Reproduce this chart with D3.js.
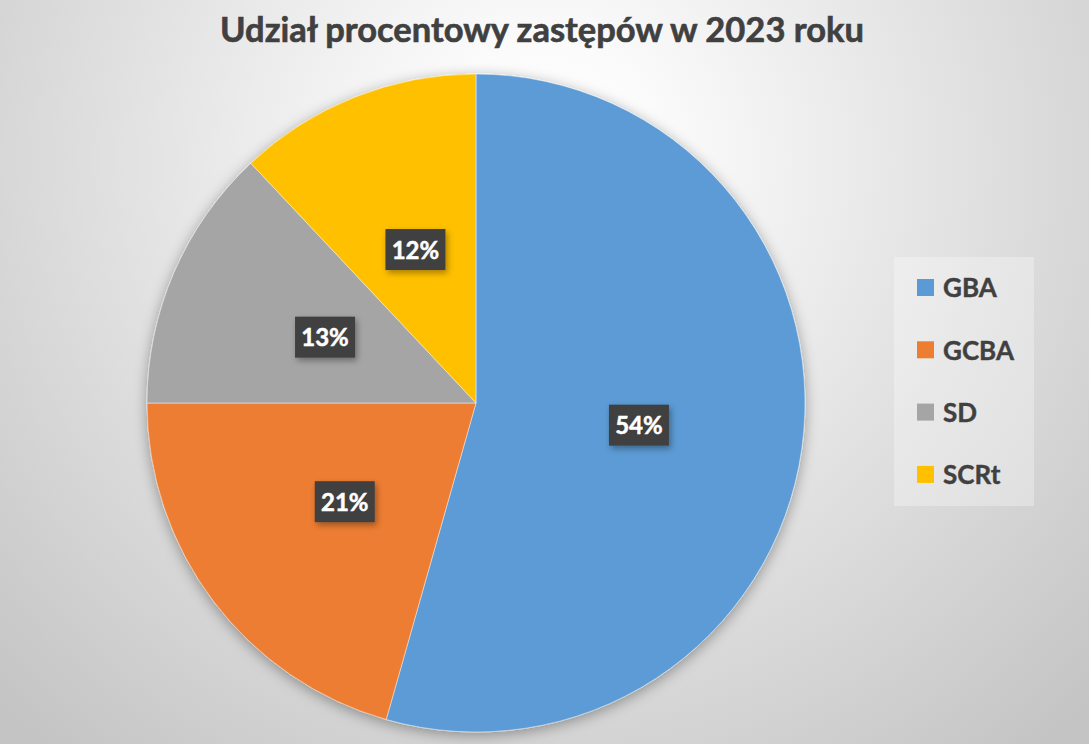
<!DOCTYPE html>
<html>
<head>
<meta charset="utf-8">
<script src="https://cdn.jsdelivr.net/npm/d3@7"></script>
<style>
  html, body { margin: 0; padding: 0; overflow: hidden; }
  svg { display: block; font-family: Lato, "Open Sans", sans-serif; }
</style>
</head>
<body>
<svg id="chart" width="1089" height="744"></svg>
<script>
const title = 'Udział procentowy zastępów w 2023 roku';
const categories = ['GBA', 'GCBA', 'SD', 'SCRt'];
const values = [54.4, 20.6, 13.0, 12.0];
const colors = ['#5B9BD5', '#ED7D31', '#A5A5A5', '#FFC000'];

const width = 1089, height = 744;
const cx = 476, cy = 403, radius = 329;

const svg = d3.select('#chart');
const defs = svg.append('defs');

// background: soft radial grey
const bg = defs.append('radialGradient')
  .attr('id', 'bg')
  .attr('gradientUnits', 'userSpaceOnUse')
  .attr('cx', 544).attr('cy', 160).attr('r', 770);
bg.append('stop').attr('offset', 0).attr('stop-color', '#ffffff');
bg.append('stop').attr('offset', 0.15).attr('stop-color', '#fbfbfb');
bg.append('stop').attr('offset', 1).attr('stop-color', '#c4c4c4');

const pieShadow = defs.append('filter').attr('id', 'pieShadow')
  .attr('x', '-10%').attr('y', '-10%').attr('width', '120%').attr('height', '120%');
pieShadow.append('feDropShadow')
  .attr('dx', 0).attr('dy', 3).attr('stdDeviation', 7)
  .attr('flood-color', '#000').attr('flood-opacity', 0.35);

const boxShadow = defs.append('filter').attr('id', 'boxShadow')
  .attr('x', '-30%').attr('y', '-30%').attr('width', '160%').attr('height', '160%');
boxShadow.append('feDropShadow')
  .attr('dx', 2).attr('dy', 3).attr('stdDeviation', 3)
  .attr('flood-color', '#000').attr('flood-opacity', 0.35);

svg.append('rect')
  .attr('width', width).attr('height', height)
  .attr('fill', 'url(#bg)');

svg.append('text')
  .attr('x', 542).attr('y', 42)
  .attr('text-anchor', 'middle')
  .attr('font-size', 34.5)
  .attr('font-weight', 700)
  .attr('fill', '#404040')
  .attr('stroke', '#404040')
  .attr('stroke-width', 0.6)
  .text(title);

const data = categories.map((c, i) => ({ name: c, value: values[i], color: colors[i] }));
const total = d3.sum(values);

const pie = d3.pie().value(d => d.value).sort(null);
const arcs = pie(data);
const arc = d3.arc().innerRadius(0).outerRadius(radius);

const g = svg.append('g').attr('transform', `translate(${cx},${cy})`);

g.append('g')
  .attr('filter', 'url(#pieShadow)')
  .selectAll('path')
  .data(arcs)
  .join('path')
  .attr('d', arc)
  .attr('fill', d => d.data.color)
  .attr('stroke', 'rgba(255,255,255,0.45)')
  .attr('stroke-width', 1);

// data labels
const labels = g.selectAll('g.lbl')
  .data(arcs)
  .join('g')
  .attr('class', 'lbl')
  .attr('transform', d => `translate(${arc.centroid(d)})`);

labels.append('rect')
  .attr('x', -30).attr('y', -21)
  .attr('width', 60).attr('height', 41)
  .attr('fill', '#404040')
  .attr('filter', 'url(#boxShadow)');

labels.append('text')
  .attr('text-anchor', 'middle')
  .attr('dy', '0.36em')
  .attr('font-size', 24)
  .attr('font-weight', 700)
  .attr('fill', '#ffffff')
  .attr('stroke', '#ffffff')
  .attr('stroke-width', 0.5)
  .text(d => Math.round(d.data.value / total * 100) + '%');

// legend
const legend = svg.append('g').attr('transform', 'translate(894,257)');
legend.append('rect')
  .attr('width', 140).attr('height', 249)
  .attr('fill', 'rgba(255,255,255,0.3)');

const item = legend.selectAll('g.item')
  .data(data)
  .join('g')
  .attr('class', 'item')
  .attr('transform', (d, i) => `translate(23,${31 + i * 62.3})`);

item.append('rect')
  .attr('x', 0).attr('y', -9)
  .attr('width', 17).attr('height', 17)
  .attr('fill', d => d.color);

item.append('text')
  .attr('x', 26).attr('dy', '0.36em')
  .attr('font-size', 26)
  .attr('font-weight', 700)
  .attr('fill', '#404040')
  .attr('stroke', '#404040')
  .attr('stroke-width', 0.4)
  .text(d => d.name);
</script>
</body>
</html>
